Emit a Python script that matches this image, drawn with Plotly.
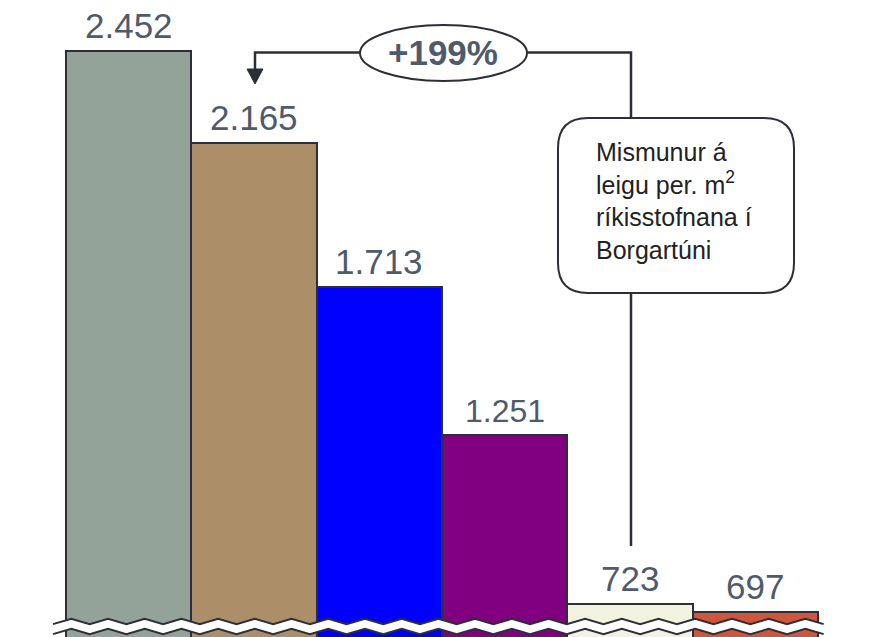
import plotly.graph_objects as go

# ---- data ----
categories = ["Stofnun 1", "Stofnun 2", "Stofnun 3", "Stofnun 4", "Stofnun 5", "Stofnun 6"]
values = [2452, 2165, 1713, 1251, 723, 697]
bar_colors = ["#94A39A", "#AC8E68", "#0000FF", "#800080", "#F2F2DE", "#CF553B"]
change_label = "+199%"
callout_lines = ["Mismunur á", "leigu per. m<sup>2</sup>", "ríkisstofnana í", "Borgartúni"]

W, H = 872, 637
LINE = "#2d2f38"
LABEL = "#4f5b6b"


def X(px):
    return px / W


def Y(py):
    return 1 - py / H


def fmt(v):
    return f"{v:,}".replace(",", ".")


fig = go.Figure()
fig.add_trace(go.Bar(
    x=categories, y=values,
    marker=dict(color=bar_colors, line=dict(color=LINE, width=2)),
    width=1.0, hoverinfo="x+y", showlegend=False,
))

annotations = []
for i, (c, v) in enumerate(zip(categories, values)):
    annotations.append(dict(
        x=c, y=v, xref="x", yref="y", text=fmt(v), showarrow=False,
        yanchor="bottom", yshift=4,
        font=dict(family="Liberation Sans, Arial", size=35 if i != 3 else 32, color=LABEL),
    ))

shapes = []
# wavy axis break
x0, x1, period, amp = 53, 836, 36.7, 2.6
def zig(yc):
    pts = []
    x = x0
    k = 0
    while x <= x1 + 0.01:
        pts.append((x, yc + (amp if k % 2 == 0 else -amp)))
        x += period / 2
        k += 1
    return pts
up = zig(621.5)
lo = zig(631.5)
band = "M " + " L ".join(f"{X(a)},{Y(b)}" for a, b in up)
band += " L " + " L ".join(f"{X(a)},{Y(b)}" for a, b in reversed(lo)) + " Z"
shapes.append(dict(type="path", xref="paper", yref="paper", path=band,
                   fillcolor="white", line=dict(width=0)))
for pts in (up, lo):
    p = "M " + " L ".join(f"{X(a)},{Y(b)}" for a, b in pts)
    shapes.append(dict(type="path", xref="paper", yref="paper", path=p,
                       line=dict(color=LINE, width=2)))

# connector lines
conn = (f"M {X(631)},{Y(118)} L {X(631)},{Y(52.5)} L {X(527)},{Y(52.5)} "
        f"M {X(360)},{Y(52.5)} L {X(255)},{Y(52.5)} L {X(255)},{Y(72)}")
shapes.append(dict(type="path", xref="paper", yref="paper", path=conn,
                   line=dict(color=LINE, width=2.5)))
# arrow head
shapes.append(dict(type="path", xref="paper", yref="paper",
                   path=f"M {X(247)},{Y(69)} L {X(263)},{Y(69)} L {X(255)},{Y(84)} Z",
                   fillcolor=LINE, line=dict(color=LINE, width=1)))
# ellipse
shapes.append(dict(type="circle", xref="paper", yref="paper",
                   x0=X(360), x1=X(527), y0=Y(81), y1=Y(25),
                   fillcolor="white", line=dict(color=LINE, width=2)))
# lower connector
shapes.append(dict(type="line", xref="paper", yref="paper",
                   x0=X(631), x1=X(631), y0=Y(293), y1=Y(546),
                   line=dict(color=LINE, width=2.5)))
# rounded box
bx0, bx1, by0, by1, r = 558, 794, 118, 293, 30
rb = (f"M {X(bx0+r)},{Y(by0)} L {X(bx1-r)},{Y(by0)} Q {X(bx1)},{Y(by0)} {X(bx1)},{Y(by0+r)} "
      f"L {X(bx1)},{Y(by1-r)} Q {X(bx1)},{Y(by1)} {X(bx1-r)},{Y(by1)} "
      f"L {X(bx0+r)},{Y(by1)} Q {X(bx0)},{Y(by1)} {X(bx0)},{Y(by1-r)} "
      f"L {X(bx0)},{Y(by0+r)} Q {X(bx0)},{Y(by0)} {X(bx0+r)},{Y(by0)} Z")
shapes.append(dict(type="path", xref="paper", yref="paper", path=rb,
                   fillcolor="white", line=dict(color=LINE, width=2)))

annotations.append(dict(
    x=X(443), y=Y(53), xref="paper", yref="paper", text=f"<b>{change_label}</b>",
    showarrow=False, xanchor="center", yanchor="middle",
    font=dict(family="Liberation Sans, Arial", size=35, color=LABEL),
))
annotations.append(dict(
    x=X(594), y=Y(201), xref="paper", yref="paper", text="<br>".join(callout_lines),
    showarrow=False, xanchor="left", yanchor="middle", align="left",
    font=dict(family="Liberation Sans, Arial", size=25, color="#222222"),
))

fig.update_layout(
    width=W, height=H, margin=dict(l=0, r=0, t=0, b=0),
    paper_bgcolor="white", plot_bgcolor="white",
    bargap=0,
    xaxis=dict(visible=False, range=[-1.0266, 5.931], type="category"),
    yaxis=dict(visible=False, range=[619.8, 2610.4]),
    shapes=shapes, annotations=annotations,
    showlegend=False,
)

fig.write_html("out.html", config={"displayModeBar": False},
               post_script="document.body.style.margin='0px';document.body.style.overflow='hidden';")
